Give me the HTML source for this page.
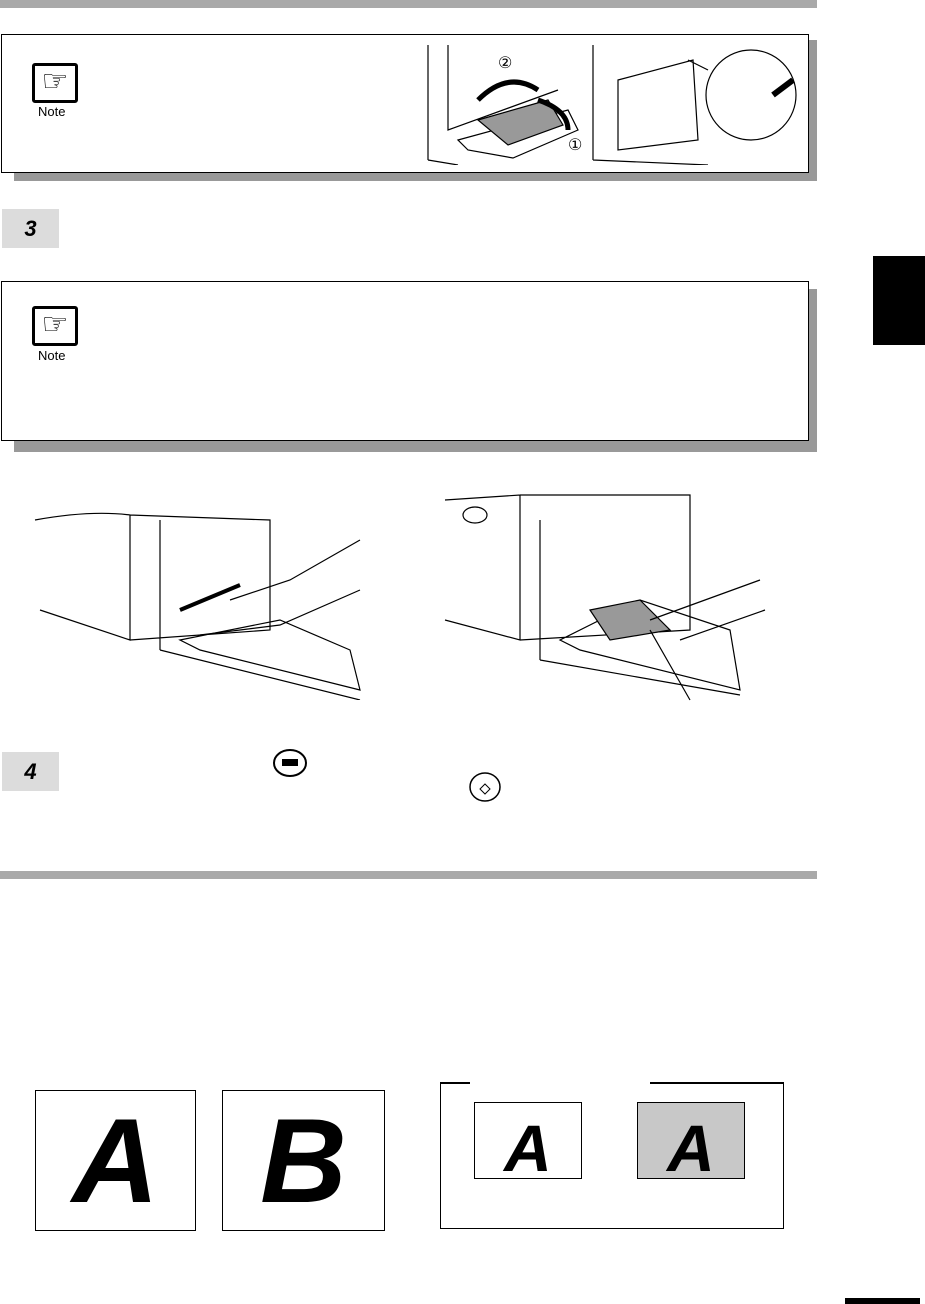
<!DOCTYPE html>
<html><head><style>
body{margin:0;width:925px;height:1304px;background:#fff;position:relative;overflow:hidden;font-family:"Liberation Sans",sans-serif}
div{position:absolute;box-sizing:border-box}
.bar{background:#a9a9a9;height:8px;left:0;width:817px}
.box{border:1.5px solid #000;background:#fff;left:1px;width:808px}
.sh{background:#999;left:14px;width:803px}
.step{background:#dcdcdc;width:57px;height:39px;left:2px;font:italic bold 22px "Liberation Sans",sans-serif;text-align:center;line-height:39px}
.ico{width:46px;height:40px;border:3px solid #000;border-radius:3px;font-size:30px;line-height:32px;text-align:center;font-family:"DejaVu Sans",sans-serif}
.nl{font-size:13px}
.big{border:1px solid #000;font:italic bold 120px "Liberation Sans",sans-serif;text-align:center;line-height:140px;transform-origin:center}
.big span{display:inline-block;transform:skewX(6deg)}
</style></head><body>
<div class="bar" style="top:0"></div>
<div class="sh" style="top:40px;height:141px"></div>
<div class="box" style="top:34px;height:139px"></div>
<div class="ico" style="left:32px;top:63px">☞</div>
<div class="nl" style="left:38px;top:104px">Note</div>
<svg style="position:absolute;left:418px;top:40px" width="390" height="125" fill="none" stroke="#000" stroke-width="1.2">
<path d="M10 5 L10 120 M10 120 L40 125 M30 5 L30 90 L140 50 M40 100 L150 70 L160 90 L95 118 L50 110Z"/>
<path d="M60 80 L130 60 L145 85 L90 105 Z" fill="#999"/>
<path d="M60 60 Q90 30 120 50" stroke-width="5"/>
<path d="M120 60 Q150 70 150 90" stroke-width="5"/>
<text x="80" y="28" font-size="16" fill="#000" stroke="none">②</text>
<text x="150" y="110" font-size="16" fill="#000" stroke="none">①</text>
<path d="M175 5 L175 120 M175 120 L290 125 M200 40 L275 20 L280 100 L200 110 Z"/>
<circle cx="333" cy="55" r="45" fill="#fff"/>
<path d="M290 30 L270 20" />
<path d="M355 55 L375 40" stroke-width="6"/>
</svg>
<div class="step" style="top:209px">3</div>
<div class="sh" style="top:289px;height:163px"></div>
<div class="box" style="top:281px;height:160px"></div>
<div class="ico" style="left:32px;top:306px">☞</div>
<div class="nl" style="left:38px;top:348px">Note</div>
<svg style="position:absolute;left:30px;top:490px" width="340" height="210" fill="none" stroke="#000" stroke-width="1.2">
<path d="M5 30 Q60 20 100 25 L100 150 L10 120 M100 25 L240 30 L240 140 L100 150 M130 30 L130 160 M130 160 L330 210 M150 150 L250 130 L320 160 L330 200 L170 160Z"/>
<path d="M150 120 L210 95" stroke-width="4"/>
<path d="M200 110 L260 90 L330 50 M170 145 L250 135 L330 100"/>
</svg>
<svg style="position:absolute;left:440px;top:490px" width="330" height="215" fill="none" stroke="#000" stroke-width="1.2">
<ellipse cx="35" cy="25" rx="12" ry="8"/>
<path d="M5 10 L80 5 L80 150 L5 130 M80 5 L250 5 L250 140 L80 150 M100 30 L100 170 M100 170 L300 205 M120 150 L200 110 L290 140 L300 200 L140 160Z"/>
<path d="M150 120 L200 110 L230 140 L170 150 Z" fill="#999"/>
<path d="M210 130 L320 90 M240 150 L325 120 M210 140 L250 210"/>
</svg>
<div class="step" style="top:752px">4</div>
<svg style="position:absolute;left:272px;top:748px" width="40" height="32"><ellipse cx="18" cy="15" rx="16" ry="13" fill="none" stroke="#000" stroke-width="2"/><rect x="10" y="11" width="16" height="7" fill="#000"/></svg>
<svg style="position:absolute;left:466px;top:771px" width="40" height="32"><ellipse cx="19" cy="16" rx="15" ry="14" fill="none" stroke="#000" stroke-width="1.5"/><path d="M19 13 L24 18 L19 23 L14 18Z" fill="none" stroke="#000"/></svg>
<div class="bar" style="top:871px"></div>
<div style="left:873px;top:256px;width:52px;height:89px;background:#000"></div>
<div class="big" style="left:35px;top:1090px;width:161px;height:141px">A</div>
<div class="big" style="left:222px;top:1090px;width:163px;height:141px">B</div>
<div style="left:440px;top:1082px;width:344px;height:147px;border:1.5px solid #000;border-top:none"></div>
<div style="left:440px;top:1082px;width:30px;height:1.5px;background:#000"></div>
<div style="left:650px;top:1082px;width:134px;height:1.5px;background:#000"></div>
<div class="big" style="left:474px;top:1102px;width:108px;height:77px;font-size:66px;line-height:90px">A</div>
<div class="big" style="left:637px;top:1102px;width:108px;height:77px;font-size:66px;line-height:90px;background:#c8c8c8">A</div>
<div style="left:845px;top:1298px;width:75px;height:6px;background:#000"></div>
</body></html>
